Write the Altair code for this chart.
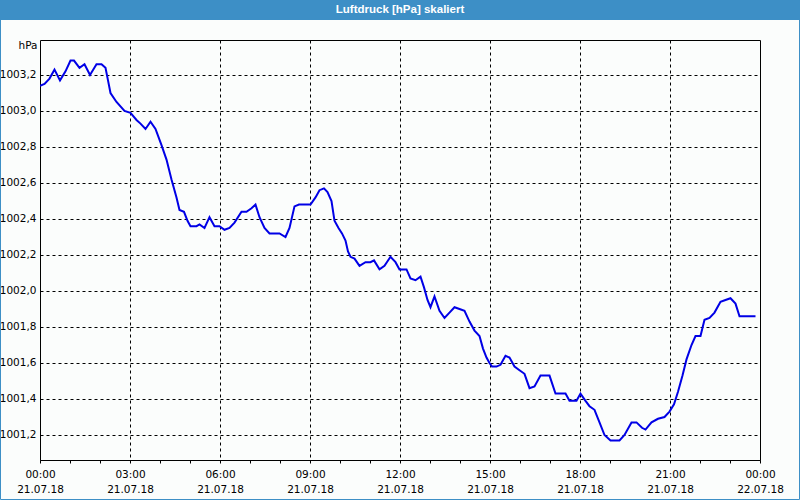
import altair as alt
import pandas as pd

TITLE = "Luftdruck [hPa] skaliert"
UNIT = "hPa"

# minutes after 21.07.18 00:00
minutes = [0, 9, 19, 29, 40, 51, 61, 68, 79, 89, 100, 113, 123, 131, 136, 141, 153, 169, 181, 193,
           201, 211, 221, 231, 243, 253, 263, 273, 279, 288, 295, 301, 313, 319, 329, 339, 349, 359,
           369, 379, 389, 403, 413, 423, 431, 439, 449, 459, 479, 491, 499, 509, 518, 541, 551, 559,
           568, 575, 583, 589, 597, 604, 611, 616, 621, 629, 639, 651, 661, 668, 679, 689, 701, 711,
           719, 733, 741, 751, 761, 768, 775, 781, 789, 799, 809, 819, 829, 839, 849, 859, 869, 879,
           886, 893, 899, 904, 913, 921, 931, 939, 949, 959, 969, 979, 989, 1001, 1019, 1031, 1051,
           1059, 1073, 1081, 1091, 1099, 1109, 1119, 1129, 1141, 1159, 1169, 1183, 1193, 1204, 1211,
           1223, 1236, 1249, 1259, 1268, 1276, 1285, 1293, 1303, 1311, 1321, 1329, 1339, 1349, 1361,
           1371, 1381, 1391, 1399, 1419, 1431]
pressure = [1003.14, 1003.15, 1003.18, 1003.23, 1003.17, 1003.22, 1003.28, 1003.28, 1003.24, 1003.26,
            1003.20, 1003.26, 1003.26, 1003.24, 1003.17, 1003.10, 1003.05, 1003.00, 1002.99, 1002.95,
            1002.93, 1002.90, 1002.94, 1002.90, 1002.81, 1002.73, 1002.62, 1002.52, 1002.45, 1002.44,
            1002.39, 1002.36, 1002.36, 1002.37, 1002.35, 1002.41, 1002.36, 1002.36, 1002.34, 1002.35,
            1002.38, 1002.44, 1002.44, 1002.46, 1002.48, 1002.41, 1002.35, 1002.32, 1002.32, 1002.30,
            1002.35, 1002.47, 1002.48, 1002.48, 1002.52, 1002.56, 1002.57, 1002.55, 1002.50, 1002.39,
            1002.35, 1002.32, 1002.28, 1002.22, 1002.19, 1002.18, 1002.14, 1002.16, 1002.16, 1002.17,
            1002.12, 1002.14, 1002.19, 1002.16, 1002.12, 1002.12, 1002.07, 1002.06, 1002.08, 1002.02,
            1001.95, 1001.91, 1001.97, 1001.89, 1001.85, 1001.88, 1001.91, 1001.90, 1001.89, 1001.83,
            1001.78, 1001.75, 1001.68, 1001.63, 1001.60, 1001.58, 1001.58, 1001.59, 1001.64, 1001.63,
            1001.58, 1001.56, 1001.54, 1001.46, 1001.47, 1001.53, 1001.53, 1001.43, 1001.43, 1001.39,
            1001.39, 1001.43, 1001.39, 1001.36, 1001.34, 1001.27, 1001.20, 1001.17, 1001.17, 1001.20,
            1001.27, 1001.27, 1001.24, 1001.23, 1001.27, 1001.29, 1001.30, 1001.33, 1001.37, 1001.44,
            1001.53, 1001.62, 1001.70, 1001.75, 1001.75, 1001.84, 1001.85, 1001.88, 1001.94, 1001.95,
            1001.96, 1001.93, 1001.86, 1001.86, 1001.86]

x_ticks = list(range(0, 25))
y_ticks = [round(1001.2 + 0.2 * i, 1) for i in range(11)]

df = pd.DataFrame({"minute": minutes, "value": pressure})
FONT = "DejaVu Sans"

line = alt.Chart(df).transform_calculate(
    hour="datum.minute / 60"
).mark_line(color="#0000e6", strokeWidth=2, clip=True).encode(
    x=alt.X("hour:Q",
            scale=alt.Scale(domain=[0, 24], nice=False, zero=False),
            axis=alt.Axis(
                values=x_ticks, title=None,
                labelExpr="datum.value % 3 == 0 ? [((datum.value % 24) < 10 ? '0' : '') + (datum.value % 24) + ':00', datum.value < 24 ? '21.07.18' : '22.07.18'] : ''",
                labelFlush=False, labelOverlap=False, labelBound=False,
                labelLineHeight=15, labelPadding=6, labelColor="#000000",
                labelFont=FONT, labelFontSize=10.5,
                tickSize=3, tickColor="#000000", domainColor="#000000",
                grid=True, gridColor="#000000", gridDash=[3, 3], gridWidth=1,
                gridOpacity={"condition": {"test": "datum.value % 3 == 0 && datum.value > 0 && datum.value < 24", "value": 1}, "value": 0},
            )),
    y=alt.Y("value:Q",
            scale=alt.Scale(domain=[1001.0611, 1003.3944], nice=False, zero=False),
            axis=alt.Axis(
                values=y_ticks, title=UNIT, titleAngle=0, titleAlign="right",
                titleBaseline="middle", titleX=-3, titleY=5, titleFont=FONT,
                titleFontSize=10.5, titleFontWeight="normal", titleColor="#000000",
                labelExpr="replace(format(datum.value, '.1f'), '.', ',')",
                labelFont=FONT, labelFontSize=10.5, labelColor="#000000",
                labelPadding=4, ticks=False, domain=False,
                grid=True, gridColor="#000000", gridDash=[3, 3], gridWidth=1,
            )),
)

deco_df = pd.DataFrame({"t": [TITLE]})
bar = alt.Chart(deco_df).mark_rect(color="#3d8fc6").encode(
    x=alt.value(-40), x2=alt.value(760), y=alt.value(-40), y2=alt.value(-20))
frame = alt.Chart(deco_df).mark_rect(fill=None, stroke="#3d8fc6", strokeWidth=1).encode(
    x=alt.value(-39.5), x2=alt.value(759.5), y=alt.value(-39.5), y2=alt.value(459.5))
title = alt.Chart(deco_df).mark_text(
    color="white", font="Liberation Sans", fontSize=11.5, fontWeight="bold",
    align="center", baseline="middle").encode(
    text="t:N", x=alt.value(360), y=alt.value(-30))

chart = alt.layer(bar, frame, title, line).properties(
    width=720, height=420,
    autosize=alt.AutoSizeParams(type="none"),
    padding={"left": 40, "top": 40, "right": 40, "bottom": 40},
    background="#fbfdfc",
).configure_view(stroke="#000000", strokeWidth=1)

chart.save("out.html", embed_options={"renderer": "svg", "actions": False})
